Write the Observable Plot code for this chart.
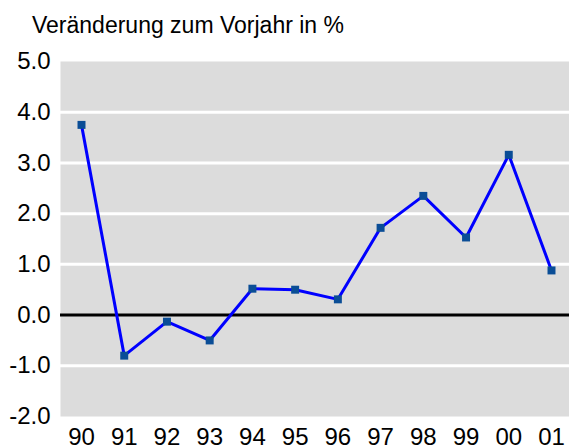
<!DOCTYPE html>
<html>
<head>
<meta charset="utf-8">
<script src="https://cdn.jsdelivr.net/npm/d3@7"></script>
<script src="https://cdn.jsdelivr.net/npm/@observablehq/plot@0.6"></script>
<style>
  html, body { margin: 0; padding: 0; background: #fff; }
  body { width: 569px; height: 448px; overflow: hidden; font-family: "Liberation Sans", Arial, sans-serif; }
  #title { padding: 14px 0 0 32px; height: 22px; line-height: 22px; font-size: 23px; color: #000; white-space: nowrap; }
  svg { display: block; }
</style>
</head>
<body>
<div id="title">Veränderung zum Vorjahr in %</div>
<div id="chart"></div>
<script>
const years = ["90","91","92","93","94","95","96","97","98","99","00","01"];
const values = [3.75, -0.8, -0.13, -0.5, 0.52, 0.5, 0.31, 1.72, 2.35, 1.53, 3.16, 0.88];
const yTicks = [-2, -1, 0, 1, 2, 3, 4, 5];
const gridValues = [-1, 1, 2, 3, 4];

const data = years.map((y, i) => ({year: y, value: values[i]}));

const chart = Plot.plot({
  width: 569,
  height: 412,
  marginTop: 25,
  marginBottom: 32,
  marginLeft: 60,
  marginRight: 0,
  style: {fontFamily: "'Liberation Sans', Arial, sans-serif", fontSize: "24px", color: "#000", background: "transparent", overflow: "visible"},
  x: {type: "point", domain: years, range: [81, 551], padding: 0, round: false, label: null},
  y: {domain: [-2, 5], label: null},
  marks: [
    Plot.frame({fill: "#dcdcdc", stroke: null}),
    Plot.ruleY(gridValues, {stroke: "#fff", strokeWidth: 3}),
    Plot.ruleY([0], {stroke: "#000", strokeWidth: 3}),
    Plot.axisY({ticks: yTicks, tickFormat: d => d.toFixed(1), tickSize: 0, tickPadding: 10, label: null, fontSize: 24}),
    Plot.axisX({tickSize: 0, tickPadding: 11, label: null, fontSize: 24}),
    Plot.line(data, {x: "year", y: "value", stroke: "#0000ff", strokeWidth: 3}),
    Plot.dot(data, {x: "year", y: "value", symbol: "square", r: 4.5, fill: "#0a4d96", stroke: null})
  ]
});
document.getElementById("chart").appendChild(chart);
</script>
</body>
</html>
